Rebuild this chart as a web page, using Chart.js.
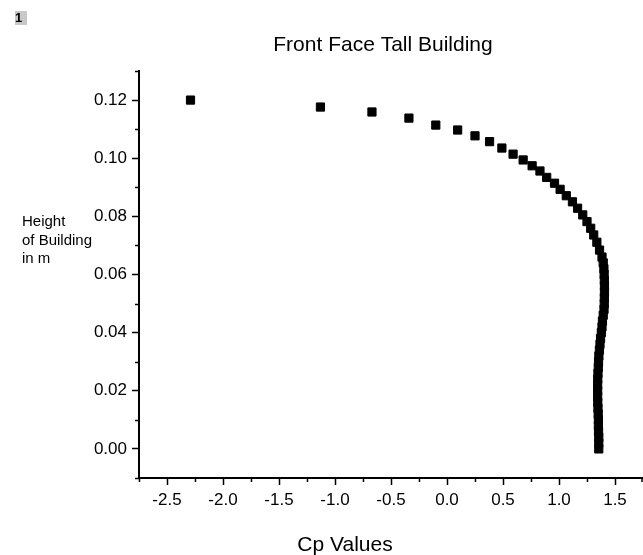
<!DOCTYPE html>
<html>
<head>
<meta charset="utf-8">
<script src="https://cdn.jsdelivr.net/npm/chart.js@4/dist/chart.umd.min.js"></script>
<style>
  html, body { margin: 0; padding: 0; background: #fff; }
  #wrap { width: 643px; height: 555px; position: relative; }
</style>
</head>
<body>
<div id="wrap"><canvas id="c" width="643" height="555"></canvas></div>
<script>
// ---- data ----
const chartTitle = "Front Face Tall Building";
const xAxisTitle = "Cp Values";
const yAxisTitleLines = ["Height", "of Building", "in m"];
const layerLabel = "1";

const cpValues = [
  -2.29, -1.13, -0.67, -0.34, -0.10, 0.095, 0.25, 0.38, 0.49, 0.59,
  0.68, 0.76, 0.83, 0.89, 0.96, 1.01, 1.065, 1.12, 1.166, 1.212,
  1.25, 1.283, 1.31, 1.338, 1.362,
  1.384, 1.395, 1.401, 1.403, 1.405, 1.406, 1.406, 1.405, 1.404, 1.402,
  1.395, 1.388, 1.384, 1.378, 1.371, 1.366, 1.361, 1.356, 1.353, 1.351,
  1.348, 1.346, 1.345, 1.345, 1.345, 1.346, 1.348, 1.350, 1.352, 1.352,
  1.353, 1.355, 1.355, 1.355
];
const heights = [
  0.1200, 0.1176, 0.1159, 0.1138, 0.1114, 0.1097, 0.1077, 0.1057, 0.1035, 0.1014,
  0.0994, 0.0974, 0.0956, 0.0934, 0.0914, 0.0893, 0.0871, 0.0850, 0.0828, 0.0805,
  0.0782, 0.0759, 0.0736, 0.0711, 0.0684,
  0.066, 0.064, 0.062, 0.060, 0.058, 0.056, 0.054, 0.052, 0.050, 0.048,
  0.046, 0.044, 0.042, 0.040, 0.038, 0.036, 0.034, 0.032, 0.030, 0.028,
  0.026, 0.024, 0.022, 0.020, 0.018, 0.016, 0.014, 0.012, 0.010, 0.008,
  0.006, 0.004, 0.002, 0.000
];

const xMajorTicks = [-2.5, -2.0, -1.5, -1.0, -0.5, 0.0, 0.5, 1.0, 1.5];
const xMinorTicks = [-2.75, -2.25, -1.75, -1.25, -0.75, -0.25, 0.25, 0.75, 1.25, 1.75];
const yMajorTicks = [0.00, 0.02, 0.04, 0.06, 0.08, 0.10, 0.12];
const yMinorTicks = [-0.01, 0.01, 0.03, 0.05, 0.07, 0.09, 0.11, 0.13];
const xRange = [-2.75, 1.75];
const yRange = [-0.01, 0.13];

const points = cpValues.map((x, i) => ({ x: x, y: heights[i] }));

const FONT = "'Liberation Sans', Arial, sans-serif";

const decorPlugin = {
  id: 'decor',
  afterDraw(chart) {
    const ctx = chart.ctx;
    const xs = chart.scales.x, ys = chart.scales.y;
    ctx.save();
    // minor ticks
    ctx.strokeStyle = '#000';
    ctx.lineWidth = 1.5;
    const bottom = chart.chartArea.bottom, left = chart.chartArea.left;
    xMinorTicks.forEach(v => {
      const px = Math.min(Math.round(xs.getPixelForValue(v)) + 0.5, chart.width - 1);
      ctx.beginPath(); ctx.moveTo(px, bottom); ctx.lineTo(px, bottom + 4); ctx.stroke();
    });
    yMinorTicks.forEach(v => {
      const py = Math.round(ys.getPixelForValue(v)) + 0.5;
      ctx.beginPath(); ctx.moveTo(left, py); ctx.lineTo(left - 4, py); ctx.stroke();
    });
    // title
    ctx.fillStyle = '#000';
    ctx.textBaseline = 'alphabetic';
    ctx.textAlign = 'center';
    ctx.font = "21px " + FONT;
    ctx.fillText(chartTitle, 383, 51);
    // x axis title
    ctx.font = "21px " + FONT;
    ctx.fillText(xAxisTitle, 345, 551);
    // y axis title
    ctx.textAlign = 'left';
    ctx.font = "15px " + FONT;
    yAxisTitleLines.forEach((t, i) => ctx.fillText(t, 22, 226 + i * 18.5));
    // layer label box
    ctx.fillStyle = '#c8c8c8';
    ctx.fillRect(15, 11, 12, 14);
    ctx.fillStyle = '#000';
    ctx.font = "bold 13px " + FONT;
    ctx.fillText(layerLabel, 15, 22);
    ctx.restore();
  }
};

new Chart(document.getElementById('c'), {
  type: 'scatter',
  data: {
    datasets: [{
      data: points,
      pointStyle: 'rect',
      pointRadius: 5.8,
      pointHoverRadius: 5.8,
      pointBackgroundColor: '#000',
      pointBorderColor: '#000',
      pointBorderWidth: 1,
      showLine: false
    }]
  },
  options: {
    responsive: false,
    animation: false,
    events: [],
    layout: { autoPadding: false, padding: { left: 0, right: 0, top: 71, bottom: 0 } },
    plugins: {
      legend: { display: false },
      tooltip: { enabled: false },
      title: { display: false }
    },
    scales: {
      x: {
        type: 'linear',
        min: xRange[0], max: xRange[1],
        afterBuildTicks: s => { s.ticks = xMajorTicks.map(v => ({ value: v })); },
        afterFit: s => { s.height = 77; s.paddingLeft = 0; s.paddingRight = 0; },
        grid: { drawOnChartArea: false, drawTicks: true, tickLength: 7, tickColor: '#000', tickWidth: 1.5 },
        border: { display: true, color: '#000', width: 2 },
        ticks: {
          color: '#000', padding: 5, maxRotation: 0, autoSkip: false,
          font: { family: FONT, size: 17 },
          callback: v => Number(v).toFixed(1)
        }
      },
      y: {
        type: 'linear',
        min: yRange[0], max: yRange[1],
        afterBuildTicks: s => { s.ticks = yMajorTicks.map(v => ({ value: v })); },
        afterFit: s => { s.width = 139; s.paddingTop = 0; s.paddingBottom = 0; },
        grid: { drawOnChartArea: false, drawTicks: true, tickLength: 7, tickColor: '#000', tickWidth: 1.5 },
        border: { display: true, color: '#000', width: 2 },
        ticks: {
          color: '#000', padding: 5, autoSkip: false,
          font: { family: FONT, size: 17 },
          callback: v => Number(v).toFixed(2)
        }
      }
    }
  },
  plugins: [decorPlugin]
});
</script>
</body>
</html>
